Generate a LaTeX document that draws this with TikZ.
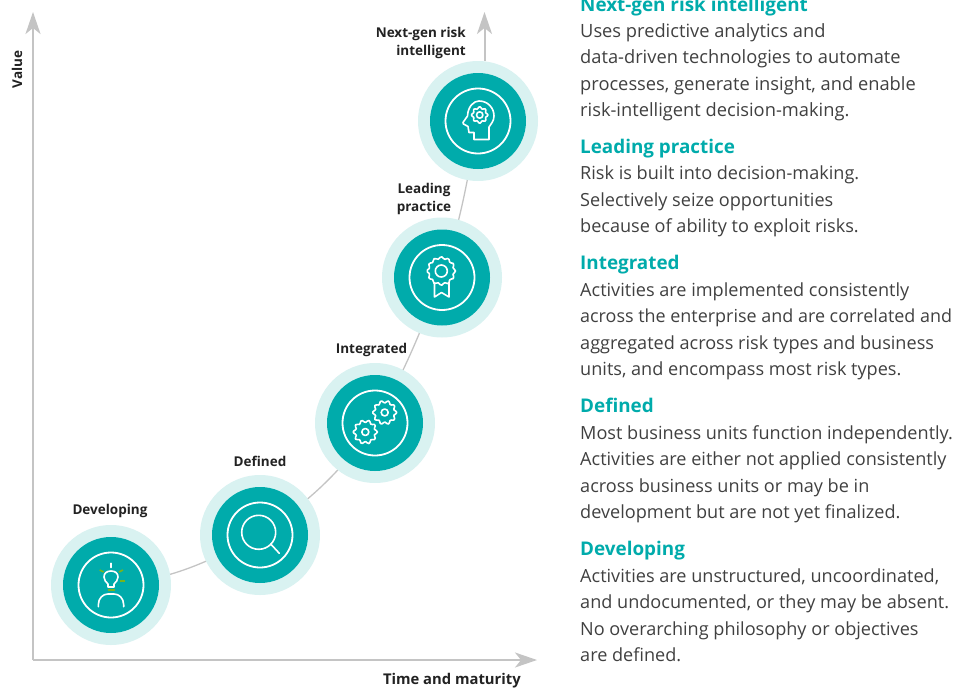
\documentclass[tikz,border=0pt]{standalone}
\usepackage{fontspec}
\setmainfont{Open Sans}
\usetikzlibrary{arrows.meta,backgrounds}
\definecolor{teal}{HTML}{00ABAB}
\definecolor{pale}{HTML}{D9F2F1}
\definecolor{axisgray}{HTML}{C4C4C4}
\definecolor{bodytxt}{HTML}{404040}
\definecolor{labeltxt}{HTML}{222222}
\definecolor{bulbgreen}{HTML}{78B41E}
\tikzset{
  outerdisc/.style={circle,draw=none,fill=pale,minimum size=120pt,inner sep=0pt},
  innerdisc/.style={circle,draw=none,fill=teal,minimum size=96pt,inner sep=0pt},
  ringdisc/.style={circle,draw=white,line width=1.8pt,minimum size=65pt,inner sep=0pt},
  icon/.style={draw=white,line width=1.6pt,line join=round,line cap=round},
  greenray/.style={draw=bulbgreen,line width=1.6pt},
  axisline/.style={draw=axisgray,line width=2pt,-{Stealth[length=22pt,width=15pt,inset=6pt]}},
  curveline/.style={draw=axisgray,line width=1.3pt},
  stagelabel/.style={font=\fontsize{13.5}{18}\selectfont\bfseries,text=labeltxt,inner sep=0pt},
  headtxt/.style={anchor=base west,font=\fontsize{18.85}{26.5}\selectfont\bfseries,text=teal,inner sep=0pt},
  bodyblock/.style={anchor=base west,align=left,font=\fontsize{18.1}{26.5}\selectfont,text=bodytxt,inner sep=0pt},
}
\newcommand{\stagedisc}[3]{%
  \node[outerdisc] (#1) at (#2,#3) {};
  \node[innerdisc] (#1i) at (#1) {};
  \node[ringdisc] (#1r) at (#1) {};}
\newcommand{\geardraw}[5]{% cx cy r amp teeth
  \draw[icon,shift={(#1,#2)}] plot[smooth cycle,domain=0:352,samples=45,variable=\t]
    ({(#3+#4*cos(#5*\t))*cos(\t)},{(#3+#4*cos(#5*\t))*sin(\t)});}
\begin{document}
\begin{tikzpicture}[x=1pt,y=-1pt]
\useasboundingbox (0,0) rectangle (953,688);
\coordinate (corner) at (33,660);
\coordinate (valuetip) at (33,12);
\coordinate (timetip) at (537,660);
\coordinate (curvetip) at (484.5,12);
\draw[axisline] (corner) -- (valuetip);
\draw[axisline] (corner) -- (timetip);

\stagedisc{dev}{111}{585}
\stagedisc{def}{260}{535}
\stagedisc{int}{375}{423}
\stagedisc{lead}{442}{277.5}
\stagedisc{next}{478}{121}

\begin{scope}[on background layer]
\draw[curveline] (dev.center) to[out=5,in=207] (def.center);
\draw[curveline] (def.center) to[out=35,in=235] (int.center);
\draw[curveline] (int.center) to[out=60,in=248] (lead.center);
\draw[curveline] (lead.center) to[out=72,in=260] (next.center);
\end{scope}
\draw[axisline] (curvetip |- next.north) -- (curvetip);

% head with gear
\begin{scope}[shift={(next)}]
\draw[icon] (-4,18.5) -- (-4,11.5) -- (-9,11.5) -- (-10,5.5) -- (-14.5,3) -- (-15,1.5) -- (-10.5,-5)
  .. controls (-10,-15) and (-4,-20) .. (1,-20)
  .. controls (10,-20) and (16,-13) .. (16,-5)
  .. controls (16,0) and (13,3) .. (11,6) -- (11,18.5) -- cycle;
\geardraw{1.7}{-6}{7.3}{0.9}{8}
\draw[icon] (1.7,-6) circle[radius=3.2];
\end{scope}

% rosette
\begin{scope}[shift={(lead)}]
\geardraw{-0.7}{-6.5}{13.2}{1.1}{12}
\draw[icon] (-0.7,-6.5) circle[radius=6];
\draw[icon] (-7.5,5.5) -- (-7.5,19.5) -- (-0.5,15) -- (7,19.5) -- (7,5.5);
\end{scope}

% two gears
\begin{scope}[shift={(int)}]
\geardraw{9.7}{-10.5}{10.8}{1.3}{10}
\draw[icon] (9.7,-10.5) circle[radius=3.5];
\geardraw{-9.7}{9}{10.8}{1.3}{10}
\draw[icon] (-9.7,9) circle[radius=3.5];
\end{scope}

% magnifier
\begin{scope}[shift={(def)}]
\draw[icon] (-1.3,-2.7) circle[radius=17];
\draw[icon] (10.7,9) -- (19.3,18.3);
\end{scope}

% person with bulb
\begin{scope}[shift={(dev)}]
\draw[icon] (0,-21.7) -- (0,-17.5);
\draw[greenray] (-11.3,-15) -- (-7.3,-13);
\draw[greenray] (8,-13) -- (12,-15);
\draw[greenray] (9.3,-4.3) -- (14.3,-4.3);
\draw[greenray] (-3.5,5) -- (4,5);
\draw[icon] (-3,2) -- (-3,-1) .. controls (-5,-3) and (-7,-5) .. (-7,-8)
  .. controls (-7,-12) and (-4,-14) .. (0,-14)
  .. controls (4,-14) and (7,-12) .. (7,-8)
  .. controls (7,-5) and (5,-3) .. (3,-1) -- (3,2) -- cycle;
\draw[icon] (-12.7,21.7) -- (-12.7,20) .. controls (-12.7,13) and (-8,9) .. (-3,9) -- (3,9)
  .. controls (8,9) and (12.7,13) .. (12.7,20) -- (12.7,21.7);
\end{scope}

% stage labels
\node[stagelabel,anchor=base] (ldev) at (110,514) {Developing};
\node[stagelabel,anchor=base] (ldef) at (260,466) {Defined};
\node[stagelabel,anchor=base] (lint) at (371.5,353) {Integrated};
\node[stagelabel,anchor=base,align=center] (llead) at (424,211.5) {Leading\\practice};
\node[stagelabel,anchor=base east,align=right] (lnext) at (466,55) {Next-gen risk\\intelligent};
\node[stagelabel,anchor=base east,font=\fontsize{14.8}{18}\selectfont\bfseries] (ltime) at (521,684) {Time and maturity};
\node[stagelabel,anchor=base,rotate=90] (lvalue) at (22,69.5) {Value};

% right-hand text
\node[headtxt] (h1) at (580,11) {Next-gen risk intelligent};
\node[bodyblock,font=\fontsize{18.28}{26.5}\selectfont] (b1) at (580,116.7) {Uses predictive analytics and\\data-driven technologies to automate\\processes, generate insight, and enable\\risk-intelligent decision-making.};
\node[headtxt] (h2) at (580,153) {Leading practice};
\node[bodyblock] (b2) at (580,232.7) {Risk is built into decision-making.\\Selectively seize opportunities\\because of ability to exploit risks.};
\node[headtxt] (h3) at (580,269) {Integrated};
\node[bodyblock] (b3) at (580,375.7) {Activities are implemented consistently\\{\fontsize{17.95}{26.5}\selectfont across the enterprise and are correlated and}\\aggregated across risk types and business\\units, and encompass most risk types.};
\node[headtxt] (h4) at (580,412) {Defined};
\node[bodyblock] (b4) at (580,518.7) {Most business units function independently.\\Activities are either not applied consistently\\across business units or may be in\\development but are not yet finalized.};
\node[headtxt] (h5) at (580,555) {Developing};
\node[bodyblock] (b5) at (580,661.7) {Activities are unstructured, uncoordinated,\\and undocumented, or they may be absent.\\No overarching philosophy or objectives\\are defined.};
\end{tikzpicture}
\end{document}
